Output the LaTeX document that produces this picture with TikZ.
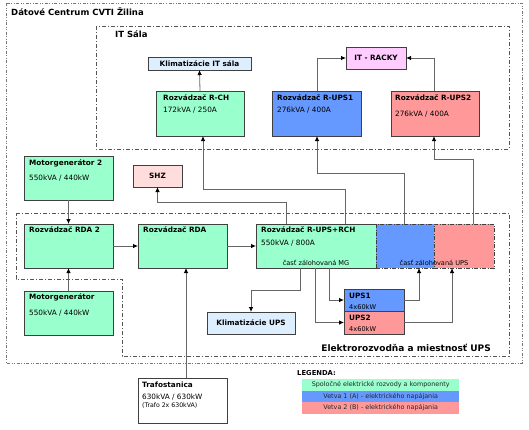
\documentclass[tikz,border=0pt]{standalone}
\usepackage{fontspec}
\setmainfont{DejaVu Sans}
\usetikzlibrary{arrows.meta}
\definecolor{grn}{HTML}{99FFCC}
\definecolor{blu}{HTML}{6699FF}
\definecolor{rd}{HTML}{FF9999}
\definecolor{lblue}{HTML}{DDEEFF}
\definecolor{pnk}{HTML}{FFCCFF}
\definecolor{lpink}{HTML}{FFDDDD}
\definecolor{bord}{HTML}{404040}
\definecolor{lin}{HTML}{666666}
\definecolor{frm}{HTML}{555555}
\begin{document}
\begin{tikzpicture}[x=1pt,y=-1pt,
  box/.style={draw=bord, line width=0.7pt, anchor=north west, inner sep=0pt, outer sep=0pt},
  dbox/.style={box, dash pattern=on 4pt off 1.5pt on 1pt off 1.5pt},
  tb/.style={font=\fontsize{7.3}{8.5}\selectfont\bfseries, inner sep=0pt, anchor=west},
  tr/.style={font=\fontsize{7.3}{8.5}\selectfont, inner sep=0pt, anchor=west},
  sm/.style={font=\fontsize{6.6}{8}\selectfont, inner sep=0pt},
  lg/.style={font=\fontsize{6.4}{8}\selectfont, inner sep=0pt, text=black!85},
  frame/.style={draw=frm, line width=0.6pt, dash pattern=on 4pt off 2pt on 1pt off 2pt},
  oframe/.style={draw=frm!80, line width=0.6pt, dash pattern=on 3pt off 1.5pt on 1pt off 1.5pt on 1pt off 1.5pt},
  conn/.style={draw=lin, line width=0.8pt, -{Latex[length=5pt,width=4.5pt,color=black]}}]
\useasboundingbox (0,0) rectangle (529,429);

% frames
\draw[oframe] (6,3) rectangle (522,363);
\node[inner sep=0pt, anchor=west, font=\fontsize{8.5}{10}\selectfont\bfseries] (t0) at (11,12) {Dátové Centrum CVTI Žilina};
\draw[frame] (96,26) rectangle (509,149);
\node[inner sep=0pt, anchor=west, font=\fontsize{8.5}{10}\selectfont\bfseries] (t1) at (115,34) {IT Sála};
\draw[frame] (16,213) -- (509,213) -- (509,356) -- (122,356) -- (122,279) -- (16,279) -- cycle;
\node[inner sep=0pt, anchor=east, font=\fontsize{9}{11}\selectfont\bfseries] (t2) at (491,348) {Elektrorozvodňa a miestnosť UPS};

% IT Sala boxes
\node[box, fill=lblue, minimum width=103pt, minimum height=13pt] (klim) at (148,57) {};
\node[tb, anchor=center] (klimt) at (klim.center) {Klimatizácie IT sála};
\node[box, fill=grn, minimum width=88pt, minimum height=45pt] (rch) at (156,91) {};
\node[tb] (rcht) at ([xshift=7pt,yshift=-7pt]rch.north west) {Rozvádzač R-CH};
\node[tr] (rchv) at ([xshift=7pt,yshift=-19pt]rch.north west) {172kVA / 250A};
\node[box, fill=pnk, minimum width=60pt, minimum height=22pt] (racky) at (346,47) {};
\node[tb, anchor=center] (rackyt) at (racky.center) {IT - RACKY};
\node[box, fill=blu, minimum width=89pt, minimum height=45pt] (rups1) at (272,91) {};
\node[tb] (rups1t) at ([xshift=5pt,yshift=-7pt]rups1.north west) {Rozvádzač R-UPS1};
\node[tr] (rups1v) at ([xshift=5pt,yshift=-19pt]rups1.north west) {276kVA / 400A};
\node[box, fill=rd, minimum width=88pt, minimum height=45pt] (rups2) at (391,91) {};
\node[tb] (rups2t) at ([xshift=4pt,yshift=-7pt]rups2.north west) {Rozvádzač R-UPS2};
\node[tr] (rups2v) at ([xshift=4pt,yshift=-23pt]rups2.north west) {276kVA / 400A};

% middle
\node[box, fill=grn, minimum width=89pt, minimum height=44pt] (mg2) at (24,156) {};
\node[tb] (mg2t) at ([xshift=5pt,yshift=-7pt]mg2.north west) {Motorgenerátor 2};
\node[tr] (mg2v) at ([xshift=5pt,yshift=-22pt]mg2.north west) {550kVA / 440kW};
\node[box, fill=lpink, minimum width=49pt, minimum height=22pt] (shz) at (133,165) {};
\node[tb, anchor=center] (shzt) at (shz.center) {SHZ};

\node[box, fill=grn, minimum width=89pt, minimum height=44pt] (rda2) at (24,224) {};
\node[tb] (rda2t) at ([xshift=5pt,yshift=-6pt]rda2.north west) {Rozvádzač RDA 2};
\node[box, fill=grn, minimum width=89pt, minimum height=44pt] (rda) at (138,224) {};
\node[tb] (rdat) at ([xshift=5pt,yshift=-6pt]rda.north west) {Rozvádzač RDA};
\node[box, fill=grn, minimum width=120pt, minimum height=44pt] (rur) at (256,224) {};
\node[dbox, fill=blu, minimum width=58pt, minimum height=44pt] (rurA) at (376,224) {};
\node[dbox, fill=rd, minimum width=60pt, minimum height=44pt] (rurB) at (434,224) {};
\node[tb] (rurt) at ([xshift=5pt,yshift=-6pt]rur.north west) {Rozvádzač R-UPS+RCH};
\node[tr] (rurv) at ([xshift=5pt,yshift=-19pt]rur.north west) {550kVA / 800A};
\node[sm] (cmg) at ([yshift=5pt]rur.south) {časť zálohovaná MG};
\node[sm] (cups) at ([yshift=5pt]rurA.south east) {časť zálohovaná UPS};

% lower
\node[box, fill=grn, minimum width=89pt, minimum height=44pt] (mg) at (24,291) {};
\node[tb] (mgt) at ([xshift=5pt,yshift=-6pt]mg.north west) {Motorgenerátor};
\node[tr] (mgv) at ([xshift=5pt,yshift=-22pt]mg.north west) {550kVA / 440kW};
\node[box, fill=lblue, minimum width=88pt, minimum height=22pt] (klimups) at (207,312) {};
\node[tb, anchor=center] (klimupst) at (klimups.center) {Klimatizácie UPS};
\node[box, fill=blu, minimum width=60pt, minimum height=22pt] (ups1) at (344,289) {};
\node[tb] (ups1t) at ([xshift=5pt,yshift=-7pt]ups1.north west) {UPS1};
\node[sm, anchor=west] (ups1v) at ([xshift=5pt,yshift=-18pt]ups1.north west) {4x60kW};
\node[box, fill=rd, minimum width=60pt, minimum height=23pt] (ups2) at (344,311) {};
\node[tb] (ups2t) at ([xshift=5pt,yshift=-7pt]ups2.north west) {UPS2};
\node[sm, anchor=west] (ups2v) at ([xshift=5pt,yshift=-18pt]ups2.north west) {4x60kW};
\node[box, fill=white, minimum width=89pt, minimum height=45pt] (trafo) at (138,378) {};
\node[tb] (trafot) at ([xshift=4pt,yshift=-7pt]trafo.north west) {Trafostanica};
\node[tr] (trafov) at ([xshift=4pt,yshift=-19pt]trafo.north west) {630kVA / 630kW};
\node[sm, anchor=west, font=\fontsize{6.2}{7}\selectfont] (trafov2) at ([xshift=4pt,yshift=-28pt]trafo.north west) {(Trafo 2x 630kVA)};

% legend
\node[inner sep=0pt, anchor=west, font=\fontsize{6.8}{8}\selectfont\bfseries] (leg) at (297,373) {LEGENDA:};
\node[anchor=north west, inner sep=0pt, fill=grn, minimum width=157pt, minimum height=11.5pt] (lg1) at (302,379) {};
\node[anchor=north west, inner sep=0pt, fill=blu, minimum width=157pt, minimum height=11.5pt] (lg2) at (302,390.5) {};
\node[anchor=north west, inner sep=0pt, fill=rd, minimum width=157pt, minimum height=11.5pt] (lg3) at (302,402) {};
\node[lg] (lg1t) at (lg1.center) {Spoločné elektrické rozvody a komponenty};
\node[lg] (lg2t) at (lg2.center) {Vetva 1 (A) - elektrického napájania};
\node[lg] (lg3t) at (lg3.center) {Vetva 2 (B) - elektrického napájania};

% connectors
\draw[conn] (rch.north) -- (klim.south);
\draw[conn] ([xshift=45pt]rups1.north west) |- (racky.west);
\draw[conn] ([xshift=43pt]rups2.north west) |- (racky.east);
\draw[conn] (mg2.south) -- (rda2.north);
\draw[conn] (mg.north) -- (rda2.south);
\draw[conn] (rda2.east) -- (rda.west);
\draw[conn] (rda.east) -- (rur.west);
\draw[conn] ([xshift=3.5pt]trafo.north) -- ([xshift=3.5pt]rda.south);
\draw[conn] ([xshift=30pt]rur.north west) -- ++(0,-22) -| (shz.south);
\draw[conn] ([xshift=89pt]rur.north west) -- ++(0,-35) -| ([xshift=47pt]rch.south west);
\draw[conn] ([xshift=28pt]rurA.north west) -- ++(0,-51) -| ([xshift=45pt]rups1.south west);
\draw[conn] ([xshift=39pt]rurB.north west) -- ++(0,-65) -| ([xshift=43pt]rups2.south west);
\draw[conn] ([xshift=44pt]rur.south west) -- ++(0,22) -| (klimups.north);
\draw[conn] ([xshift=59pt]rur.south west) |- (ups2.west);
\draw[conn] ([xshift=73pt]rur.south west) |- (ups1.west);
\draw[conn] (ups1.east) -| ([xshift=43pt]rurA.south west);
\draw[conn] (ups2.east) -| ([xshift=18pt]rurB.south west);
\end{tikzpicture}
\end{document}
